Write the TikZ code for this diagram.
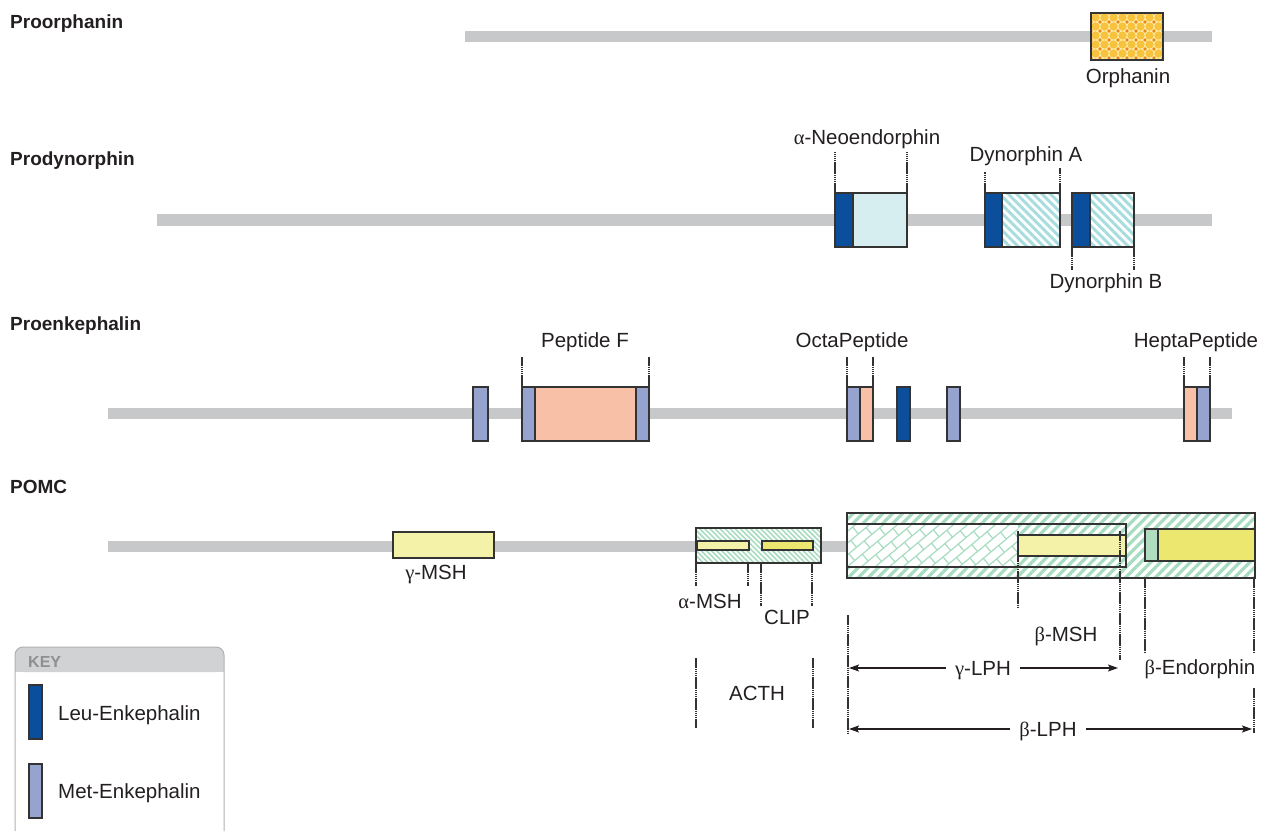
\documentclass[tikz,border=0pt]{standalone}
\usepackage{fontspec}
\setmainfont{Liberation Sans}
\newfontfamily\gr{Liberation Serif}
\usetikzlibrary{patterns,patterns.meta,arrows.meta}
\definecolor{barG}{HTML}{C7C8CA}
\definecolor{leuC}{HTML}{0B4F9C}
\definecolor{metC}{HTML}{97A3CF}
\definecolor{salC}{HTML}{F9C0A8}
\definecolor{neoC}{HTML}{D6EEF0}
\definecolor{cyaC}{HTML}{A8DDE0}
\definecolor{grnC}{HTML}{A7DCC0}
\definecolor{ylwL}{HTML}{F4F1A9}
\definecolor{ylwD}{HTML}{ECE86F}
\definecolor{smG}{HTML}{B0DCC0}
\definecolor{bordC}{HTML}{333333}
\definecolor{orBg}{HTML}{FFEFB0}
\definecolor{orY}{HTML}{F7C23E}
\definecolor{orD}{HTML}{E8861A}
\definecolor{keyH}{HTML}{D1D2D4}
\definecolor{keyT}{HTML}{8E8F91}
\definecolor{txtC}{HTML}{231F20}
\newcommand\bx[6]{\node[#6, anchor=north west, inner sep=0pt, outer sep=0pt,
  minimum width={(#4-#2)*1pt}, minimum height={(#5-#3)*1pt}] (#1) at (#2,#3) {};}
\tikzset{
  boxb/.style={draw=bordC, line width=1.2pt},
  leu/.style={boxb, fill=leuC},
  met/.style={boxb, fill=metC},
  sal/.style={boxb, fill=salC},
  bar/.style={barG, line width=11pt},
  dot/.style={bordC, line width=1.4pt, dash pattern=on 1.6pt off 0.5pt},
  lbl/.style={font=\fontsize{20.5}{24}\selectfont, text=txtC, inner sep=0pt},
  head/.style={font=\bfseries\fontsize{19}{22}\selectfont, text=txtC, inner sep=0pt, anchor=base west},
  arr/.style={txtC, line width=1.4pt, -{Stealth[length=10pt,width=7pt,inset=2pt]}},
  cyhatch/.style={boxb, preaction={fill=white}, pattern={Lines[angle=-45,distance=6pt,line width=3pt]}, pattern color=cyaC},
  grfine/.style={boxb, preaction={fill=white}, pattern={Lines[angle=-45,distance=3.6pt,line width=1.6pt]}, pattern color=grnC},
  grwide/.style={boxb, preaction={fill=white}, pattern={Lines[angle=45,distance=7pt,line width=3.2pt]}, pattern color=grnC},
}
\begin{document}
\begin{tikzpicture}[x=1pt,y=-1pt]
\useasboundingbox (0,0) rectangle (1262,832);

% ---------------- Proorphanin
\node[head] (hOrph) at (10,29) {Proorphanin};
\coordinate (b1a) at (465,36.5); \coordinate (b1b) at (1212,36.5);
\draw[bar] (b1a) -- (b1b);
\begin{scope}
\clip (1091,13) rectangle (1163,60);
\fill[orBg] (1091,13) rectangle (1163,60);
\foreach \i in {0,...,8} \foreach \j in {0,...,5} {\fill[orY] (1091+\i*9+4.5,13+\j*9+4.5) circle (4.2);}
\foreach \i in {0,...,8} \foreach \j in {0,...,6} {\fill[orD] (1091+\i*9,13+\j*9) circle (1.9);}
\end{scope}
\bx{orph}{1091}{13}{1163}{60}{boxb}
\node[lbl, anchor=base] (orphL) at (1128,84) {Orphanin};

% ---------------- Prodynorphin
\node[head] (hDyn) at (10,166) {Prodynorphin};
\coordinate (b2a) at (157,220); \coordinate (b2b) at (1212,220);
\draw[bar] (b2a) -- (b2b);
\bx{neoL}{835}{193}{853}{247}{leu}
\bx{neo}{853}{193}{907}{247}{boxb, fill=neoC}
\bx{dAL}{985}{193}{1002}{247}{leu}
\bx{dA}{1002}{193}{1060}{247}{cyhatch}
\bx{dBL}{1072}{193}{1090}{247}{leu}
\bx{dB}{1090}{193}{1134}{247}{cyhatch}
\draw[dot] (neoL.north west) -- ++(0,-41);
\draw[dot] (neo.north east) -- ++(0,-41);
\draw[dot] (dAL.north west) -- ++(0,-21);
\draw[dot] (dA.north east) -- ++(0,-25);
\draw[dot] (dBL.south west) -- ++(0,23);
\draw[dot] (dB.south east) -- ++(0,23);
\node[lbl, anchor=base] (neoT) at (867,145) {{\gr α}-Neoendorphin};
\node[lbl, anchor=base] (dAT) at (1026,162) {Dynorphin A};
\node[lbl, anchor=base] (dBT) at (1106,288) {Dynorphin B};

% ---------------- Proenkephalin
\node[head] (hEnk) at (10,330) {Proenkephalin};
\coordinate (b3a) at (108,413.5); \coordinate (b3b) at (1232,413.5);
\draw[bar] (b3a) -- (b3b);
\bx{m1}{473}{387}{488}{441}{met}
\bx{pfL}{522}{387}{535}{441}{met}
\bx{pf}{535}{387}{636}{441}{sal}
\bx{pfR}{636}{387}{649}{441}{met}
\bx{ocL}{847}{387}{860}{441}{met}
\bx{ocR}{860}{387}{873}{441}{sal}
\bx{l1}{897}{387}{910}{441}{leu}
\bx{m2}{947}{387}{960}{441}{met}
\bx{hpL}{1184}{387}{1197}{441}{sal}
\bx{hpR}{1197}{387}{1210}{441}{met}
\draw[dot] (pfL.north west) -- ++(0,-30);
\draw[dot] (pfR.north east) -- ++(0,-30);
\draw[dot] (ocL.north west) -- ++(0,-30);
\draw[dot] (ocR.north east) -- ++(0,-30);
\draw[dot] (hpL.north west) -- ++(0,-30);
\draw[dot] (hpR.north east) -- ++(0,-30);
\node[lbl, anchor=base] (pfT) at (585,347) {Peptide F};
\node[lbl, anchor=base] (ocT) at (852,347) {OctaPeptide};
\node[lbl, anchor=base] (hpT) at (1196,347) {HeptaPeptide};

% ---------------- POMC
\node[head] (hPomc) at (10,493) {POMC};
\coordinate (b4a) at (108,546); \coordinate (b4b) at (850,546);
\draw[bar] (b4a) -- (b4b);
\bx{gmsh}{393}{532}{494}{558}{boxb, fill=ylwL}
\node[lbl, anchor=base] (gmshT) at (436,579) {{\gr γ}-MSH};

% ACTH
\bx{acth}{696}{528}{821}{563}{grfine}
\bx{amsh}{697}{541}{749}{550}{boxb, fill=ylwL}
\bx{clip}{762}{541}{813}{550}{boxb, fill=ylwD}
\coordinate (ac1) at (696,563); \coordinate (ac2) at (748,563);
\coordinate (ac3) at (761,563); \coordinate (ac4) at (812,563);
\draw[dot] (ac1) -- ++(0,23);
\draw[dot] (ac2) -- ++(0,23);
\draw[dot] (ac3) -- ++(0,43);
\draw[dot] (ac4) -- ++(0,43);
\node[lbl, anchor=base] (amshT) at (710,608) {{\gr α}-MSH};
\node[lbl, anchor=base] (clipT) at (787,624) {CLIP};
\coordinate (acA) at (696,658); \coordinate (acB) at (813,658);
\draw[dot] (acA) -- ++(0,70);
\draw[dot] (acB) -- ++(0,70);
\node[lbl, anchor=base] (acthT) at (757,700) {ACTH};

% beta-LPH
\bx{blph}{847}{513}{1255}{578}{grwide}
\bx{glph}{847}{524}{1126}{567}{boxb, fill=white}
\begin{scope}
\clip (848,525) rectangle (1125,566);
\fill[pattern={Lines[angle=45,distance=7pt,line width=3.2pt]}, pattern color=grnC] (1018,525) rectangle (1125,566);
\clip (848,525) rectangle (1018,566);
\begin{scope}[shift={(847,567)}, rotate=40]
\foreach \k in {-6,...,15} {
  \draw[grnC, line width=1.2pt] (-60,\k*9) -- (260,\k*9);
  \pgfmathsetmacro\off{mod(\k+20,2)*10}
  \foreach \j in {-3,...,10} {\draw[grnC, line width=1.2pt] (\j*20+\off,\k*9) -- (\j*20+\off,\k*9+9);}
}
\end{scope}
\end{scope}
\draw[boxb] (glph.north west) rectangle (glph.south east);
\bx{bmsh}{1018}{535}{1126}{556}{boxb, fill=ylwL}
\bx{bendG}{1145}{529}{1158}{561}{boxb, fill=smG}
\bx{bend}{1158}{529}{1255}{561}{boxb, fill=ylwD}
\coordinate (bm1) at (1018,531); \coordinate (bm2) at (1120,531);
\draw[dot] (bm1) -- ++(0,77);
\draw[dot] (bm2) -- ++(0,129);
\node[lbl, anchor=base] (bmshT) at (1066,641) {{\gr β}-MSH};
\coordinate (be1) at (1145,578); \coordinate (be2) at (1254,578);
\draw[dot] (be1) -- ++(0,74);
\draw[dot] (be2) -- ++(0,74);
\node[lbl, anchor=base] (bendT) at (1200,674) {{\gr β}-Endorphin};
\coordinate (gl0) at (848,615);
\draw[dot] (gl0) -- ++(0,118);
\coordinate (be3) at (1254,688);
\draw[dot] (be3) -- ++(0,45);
\node[lbl, anchor=base, inner xsep=9pt] (glT) at (983,675) {{\gr γ}-LPH};
\node[lbl, anchor=base, inner xsep=9pt] (blT) at (1048,736) {{\gr β}-LPH};
\coordinate (glA) at (849,668); \coordinate (glB) at (1118,668);
\coordinate (blA) at (849,729); \coordinate (blB) at (1252,729);
\draw[arr] (glT.west |- glA) -- (glA);
\draw[arr] (glT.east |- glB) -- (glB);
\draw[arr] (blT.west |- blA) -- (blA);
\draw[arr] (blT.east |- blB) -- (blB);

% ---------------- KEY
\fill[keyH, rounded corners=8pt] (15,672) -- (15,647) -- (224,647) -- (224,672) -- cycle;
\fill[keyH] (15,662) rectangle (224,672);
\draw[keyT!70, line width=1pt, rounded corners=8pt] (15,831) -- (15,647) -- (224,647) -- (224,831);
\node[font=\bfseries\fontsize{16}{19}\selectfont, text=keyT, anchor=base west, inner sep=0pt] (keyT) at (28,667) {KEY};
\bx{kLeu}{29}{685}{42}{739}{leu}
\bx{kMet}{29}{764}{42}{818}{met}
\node[lbl, anchor=base west] (kLeuT) at (58,720) {Leu-Enkephalin};
\node[lbl, anchor=base west] (kMetT) at (58,798) {Met-Enkephalin};
\end{tikzpicture}
\end{document}
